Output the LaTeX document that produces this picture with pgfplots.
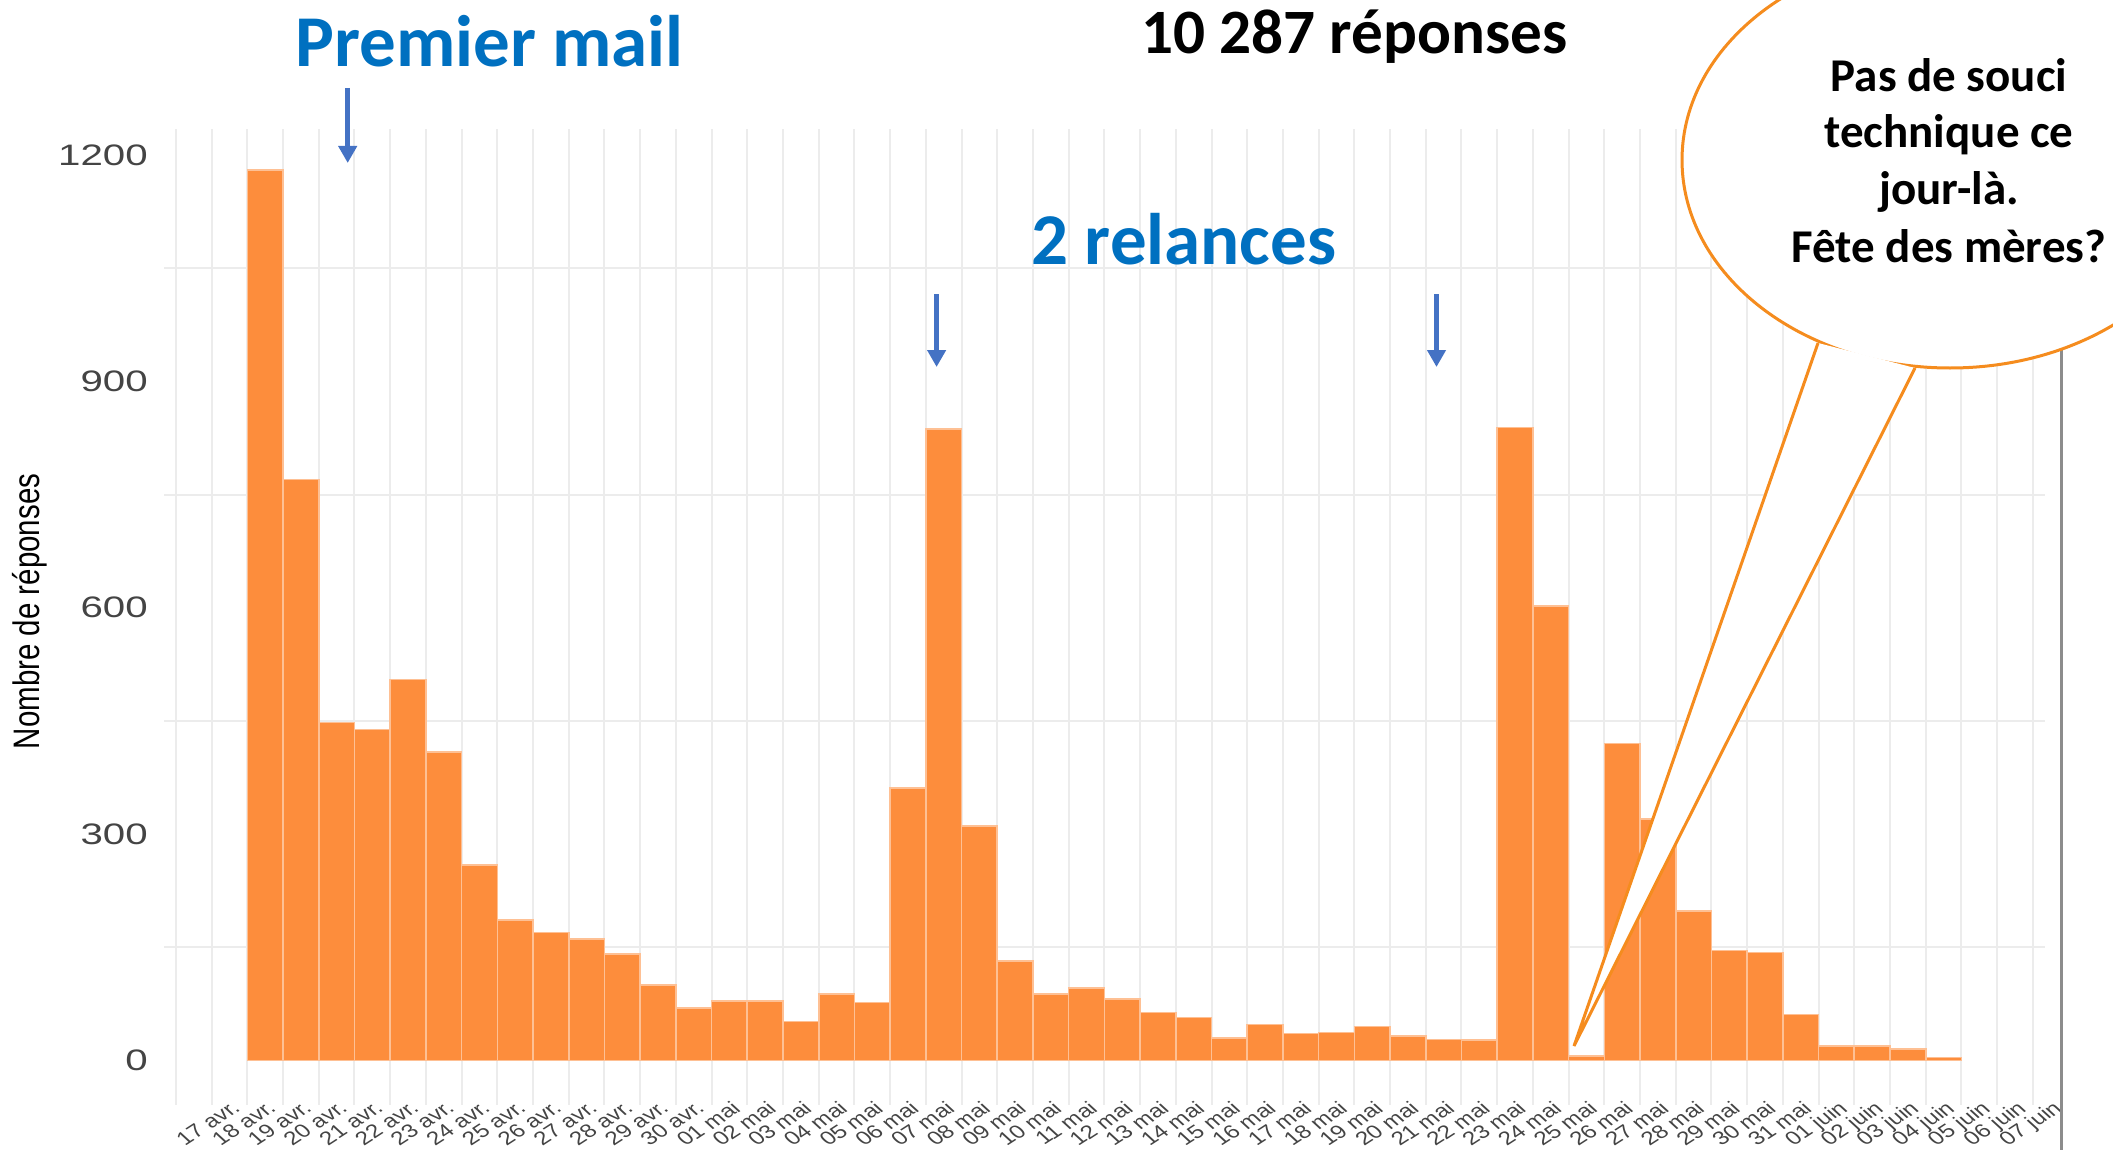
\documentclass[border=0pt]{standalone}
\usepackage{fontspec}
\setmainfont{Liberation Sans}
\newfontfamily\calibri{Carlito}
\usepackage{pgfplots}
\pgfplotsset{compat=1.18}
\usetikzlibrary{arrows.meta}
\definecolor{barorange}{RGB}{253,141,60}
\definecolor{gridc}{RGB}{236,236,236}
\definecolor{tickc}{RGB}{68,68,68}
\definecolor{titleblue}{RGB}{0,112,192}
\definecolor{arrowblue}{RGB}{68,114,196}
\definecolor{bubbleorange}{RGB}{245,140,30}
\definecolor{rightline}{RGB}{140,140,140}

\begin{document}
\begin{tikzpicture}
\begin{axis}[
  at={(81.9pt,-552.5pt)}, anchor=south west,
  scale only axis, width=947pt, height=488.25pt,
  xmin=-2.84, xmax=50.2, ymin=-58.83, ymax=1235.1,
  axis line style={draw=none}, tick style={draw=none},
  ybar, bar width=1,
  ytick={0,300,...,1200},
  xtick={-1,0,...,50},
  xticklabels={17 avr.,18 avr.,19 avr.,20 avr.,21 avr.,22 avr.,23 avr.,24 avr.,25 avr.,26 avr.,27 avr.,28 avr.,29 avr.,30 avr.,
    01 mai,02 mai,03 mai,04 mai,05 mai,06 mai,07 mai,08 mai,09 mai,10 mai,11 mai,12 mai,13 mai,14 mai,15 mai,16 mai,
    17 mai,18 mai,19 mai,20 mai,21 mai,22 mai,23 mai,24 mai,25 mai,26 mai,27 mai,28 mai,29 mai,30 mai,31 mai,
    01 juin,02 juin,03 juin,04 juin,05 juin,06 juin,07 juin},
  minor xtick={-2.5,-1.5,...,49.5},
  xminorgrids=true,
  minor grid style={gridc, line width=1pt},
  xticklabel style={font=\fontsize{9.4}{11}\selectfont, text=tickc, anchor=north east, inner sep=0pt, yshift=7pt, xshift=0.5pt, xscale=1.3, rotate=40},
  yticklabel style={font=\fontsize{14.8}{16}\selectfont, text=tickc, anchor=east, inner sep=0pt, xshift=-7.75pt, xscale=1.36},
  /pgf/number format/assume math mode=true,
  /pgf/number format/1000 sep={},
]
\draw[gridc, line width=1pt] (axis cs:-2.84,150) -- (axis cs:49.84,150);
\draw[gridc, line width=1pt] (axis cs:-2.84,450) -- (axis cs:49.84,450);
\draw[gridc, line width=1pt] (axis cs:-2.84,750) -- (axis cs:49.84,750);
\draw[gridc, line width=1pt] (axis cs:-2.84,1050) -- (axis cs:49.84,1050);
\addplot[fill=barorange, draw=white!45!barorange, line width=0.8pt] coordinates {
(0,1180) (1,770) (2,448) (3,439) (4,505) (5,409) (6,259) (7,186) (8,170) (9,161)
(10,141) (11,100) (12,70) (13,79) (14,79) (15,52) (16,88) (17,77) (18,361) (19,837)
(20,311) (21,132) (22,88) (23,96) (24,82) (25,64) (26,57) (27,30) (28,48) (29,36)
(30,37) (31,45) (32,33) (33,28) (34,27) (35,839) (36,602) (37,6) (38,420) (39,320)
(40,198) (41,146) (42,143) (43,61) (44,19) (45,19) (46,15) (47,4)
};
\end{axis}
\begin{scope}[x=0.5pt,y=-0.5pt]
\clip (0,0) rectangle (2113,1150);
\node[font=\fontsize{14.75}{16}\selectfont, xscale=1.25, rotate=90] at (30,611.5) {Nombre de réponses};
\draw[rightline, line width=1.5pt] (2061,340) -- (2061,1150);
% bubble
\draw[bubbleorange, line width=1.5pt, fill=white] (1950,160) ellipse [x radius=268, y radius=208];
\fill[white] (1818,343) -- (1574,1046) -- (1915,368) -- cycle;
\draw[bubbleorange, line width=1.5pt, line join=miter] (1818,343) -- (1574,1046) -- (1915,368);
\begin{scope}[every node/.style={anchor=base, inner sep=0pt, font=\calibri\bfseries\fontsize{23.5}{28}\selectfont}]
\node at (1949,92) {Pas de souci};
\node at (1949,148) {technique ce};
\node at (1949,205) {jour-là.};
\node at (1949,263) {Fête des mères?};
\end{scope}
% titles
\node[anchor=base west, inner sep=0pt, text=titleblue, font=\calibri\bfseries\fontsize{36.5}{40}\selectfont] at (295,66.7) {Premier mail};
\node[anchor=base west, inner sep=0pt, font=\calibri\bfseries\fontsize{31.6}{36}\selectfont] at (1140.7,53.3) {10 287 réponses};
\node[anchor=base west, inner sep=0pt, text=titleblue, font=\calibri\bfseries\fontsize{36.5}{40}\selectfont] at (1031,264) {2 relances};
% arrows
\draw[arrowblue, line width=2.35pt, -{Triangle[width=9pt,length=8.5pt]}] (347.7,88) -- (347.7,163);
\draw[arrowblue, line width=2.35pt, -{Triangle[width=9pt,length=8.5pt]}] (936.6,294) -- (936.6,367);
\draw[arrowblue, line width=2.35pt, -{Triangle[width=9pt,length=8.5pt]}] (1436.5,294) -- (1436.5,367);
\end{scope}
\begin{scope}[x=0.5pt,y=-0.5pt]
\pgfresetboundingbox
\useasboundingbox (0,0) rectangle (2113,1150);
\end{scope}
\end{tikzpicture}
\end{document}
